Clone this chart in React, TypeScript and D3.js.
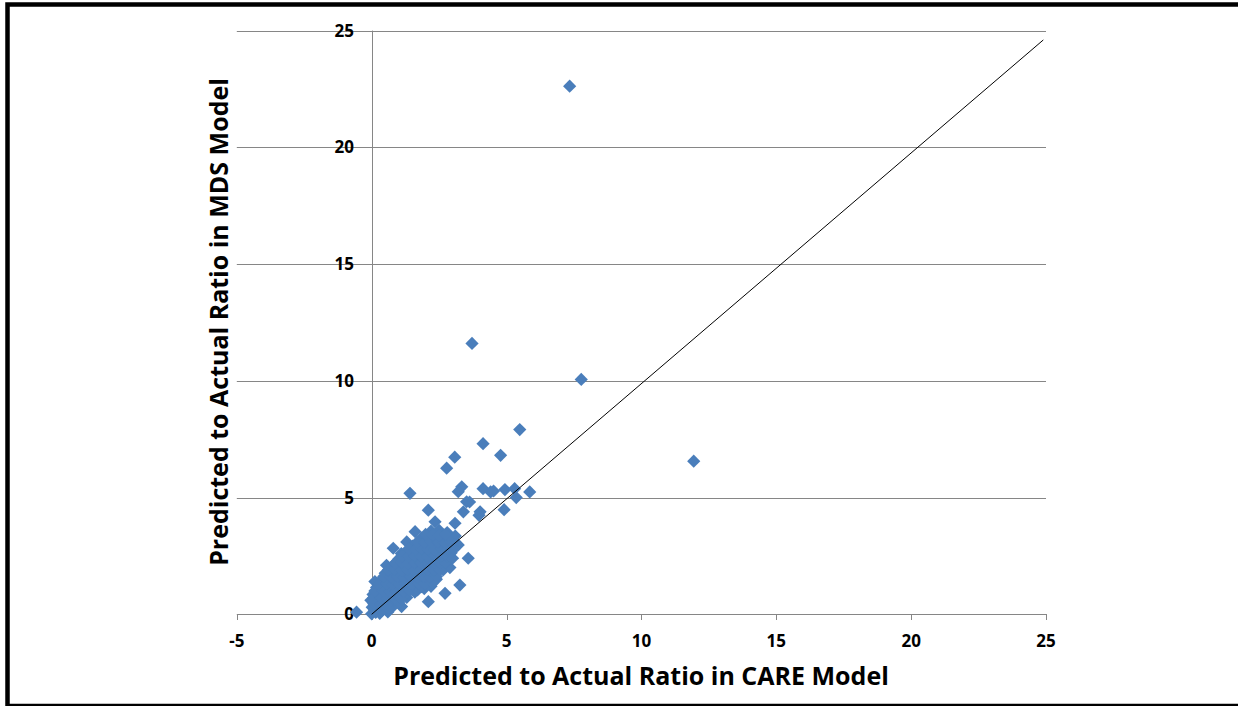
import React from "react";
import * as d3 from "d3";

// CARE (x) vs MDS (y) predicted-to-actual ratios
const clusterPoints: [number, number][] = [
  [-0.56, 0.09], [0.0, 0.02], [0.15, 0.08], [0.3, 0.04], [0.6, 0.1], [1.11, 0.33],
  [0.02, 0.3], [0.25, 0.28], [0.5, 0.32], [0.8, 0.35],
  [-0.03, 0.6], [0.2, 0.55], [0.45, 0.58], [0.7, 0.52], [1.0, 0.5], [1.3, 0.72], [2.1, 0.54],
  [0.05, 0.85], [0.3, 0.88], [0.55, 0.82], [0.8, 0.86], [1.05, 0.84], [1.3, 0.9], [1.6, 0.95], [2.72, 0.9],
  [0.12, 1.4], [0.18, 1.15], [0.42, 1.18], [0.66, 1.12], [0.9, 1.16], [1.14, 1.12], [1.38, 1.18], [1.62, 1.14], [1.85, 1.18], [2.2, 1.2], [3.27, 1.25],
  [0.36, 1.48], [0.6, 1.44], [0.84, 1.5], [1.08, 1.44], [1.32, 1.48], [1.56, 1.44], [1.8, 1.5], [2.05, 1.46], [2.4, 1.5],
  [0.5, 1.76], [0.74, 1.72], [0.98, 1.78], [1.22, 1.74], [1.46, 1.76], [1.7, 1.72], [1.94, 1.78], [2.18, 1.74], [2.4, 1.76], [2.65, 1.9],
  [0.55, 2.1], [0.75, 2.04], [0.99, 2.08], [1.23, 2.04], [1.47, 2.06], [1.71, 2.02], [1.95, 2.08], [2.19, 2.04], [2.43, 2.06], [2.62, 2.1], [2.9, 2.0],
  [1.0, 2.36], [1.24, 2.32], [1.48, 2.38], [1.72, 2.34], [1.96, 2.36], [2.2, 2.32], [2.44, 2.38], [2.68, 2.34], [2.82, 2.4], [3.58, 2.4], [0.8, 2.83],
  [1.1, 2.6], [1.25, 2.66], [1.5, 2.62], [1.74, 2.68], [1.98, 2.64], [2.22, 2.66], [2.46, 2.62], [2.7, 2.68], [2.95, 2.64], [3.21, 2.97],
  [1.3, 3.1], [1.52, 2.92], [1.76, 2.96], [2.0, 2.92], [2.24, 2.98], [2.48, 2.94], [2.72, 2.96], [2.96, 2.92],
  [1.61, 3.54], [1.85, 3.26], [2.1, 3.22], [2.34, 3.28], [2.58, 3.24], [2.82, 3.26], [3.1, 3.35],
  [2.2, 3.56], [2.5, 3.6], [2.8, 3.5], [2.35, 3.96], [3.09, 3.9],
];

const clusterCorePoints: [number, number][] = [
  [0.1, 0.18], [0.38, 0.16], [0.62, 0.24],
  [0.08, 0.45], [0.33, 0.42], [0.58, 0.44], [0.85, 0.62],
  [0.07, 0.7], [0.32, 0.72], [0.57, 0.68], [0.82, 0.7], [1.08, 0.66],
  [0.12, 1.0], [0.42, 1.02], [0.68, 0.98], [0.92, 1.0], [1.18, 0.98], [1.42, 1.02], [1.7, 1.04], [1.95, 1.1],
  [0.28, 1.3], [0.54, 1.32], [0.78, 1.28], [1.02, 1.3], [1.26, 1.32], [1.5, 1.28], [1.74, 1.32], [1.98, 1.3], [2.25, 1.35],
  [0.45, 1.62], [0.72, 1.6], [0.96, 1.62], [1.2, 1.58], [1.44, 1.62], [1.68, 1.6], [1.92, 1.62], [2.16, 1.6], [2.4, 1.62],
  [0.62, 1.9], [0.86, 1.92], [1.1, 1.88], [1.34, 1.92], [1.58, 1.9], [1.82, 1.88], [2.06, 1.92], [2.3, 1.9], [2.52, 1.92],
  [0.87, 2.2], [1.11, 2.22], [1.35, 2.18], [1.59, 2.22], [1.83, 2.2], [2.07, 2.18], [2.31, 2.22], [2.55, 2.2], [2.75, 2.22],
  [1.12, 2.5], [1.36, 2.48], [1.6, 2.52], [1.84, 2.5], [2.08, 2.48], [2.32, 2.52], [2.56, 2.5], [2.8, 2.48], [3.0, 2.4],
  [1.38, 2.8], [1.62, 2.78], [1.86, 2.82], [2.1, 2.8], [2.34, 2.78], [2.58, 2.82], [2.84, 2.8], [3.05, 2.8],
  [1.7, 3.1], [1.96, 3.08], [2.2, 3.12], [2.46, 3.1], [2.7, 3.08], [2.92, 3.12],
  [2.0, 3.42], [2.26, 3.4], [2.5, 3.38], [2.74, 3.42],
];

const outlierPoints: [number, number][] = [
  [2.1, 4.46], [3.4, 4.39], [3.52, 4.82], [3.63, 4.81], [3.34, 5.46], [3.21, 5.25], [4.02, 4.39], [3.98, 4.24],
  [4.13, 5.38], [4.41, 5.24], [4.52, 5.28], [4.94, 5.34], [5.3, 5.38], [5.36, 5.0], [4.91, 4.48], [5.86, 5.24],
  [3.08, 6.73], [2.78, 6.26], [4.13, 7.31], [4.78, 6.81], [5.49, 7.91], [1.42, 5.18],
  [3.72, 11.6], [7.34, 22.62], [7.77, 10.06], [11.94, 6.56],
];

const referenceLineX = [0, 24.9];
const referenceLineY = [0, 24.6];

const xTicks = [-5, 0, 5, 10, 15, 20, 25];
const yTicks = [0, 5, 10, 15, 20, 25];

const xTitle = "Predicted to Actual Ratio in CARE Model";
const yTitle = "Predicted to Actual Ratio in MDS Model";

export default function App() {
  const W = 1238;
  const H = 706;
  const x = d3.scaleLinear().domain([-5, 25]).range([236.8, 1046]);
  const y = d3.scaleLinear().domain([0, 25]).range([614.3, 30.6]);
  const gridColor = "#868686";
  const font = "'Open Sans', 'DejaVu Sans', sans-serif";
  const r = 6.6;
  const diamond = `M0,${-r}L${r},0L0,${r}L${-r},0Z`;
  const allPoints = [...clusterPoints, ...clusterCorePoints, ...outlierPoints];
  const line = d3
    .line<number>()
    .x((_, i) => x(referenceLineX[i]))
    .y((d) => y(d));

  return (
    <svg
      width={W}
      height={H}
      style={{ position: "absolute", left: 0, top: 0, background: "#fff" }}
    >
      <rect x={0} y={0} width={W} height={H} fill="#fff" />
      {yTicks
        .filter((t) => t !== 0)
        .map((t) => (
          <line
            key={"g" + t}
            x1={x(-5)}
            x2={x(25)}
            y1={Math.round(y(t)) + 0.5}
            y2={Math.round(y(t)) + 0.5}
            stroke={gridColor}
            strokeWidth={1}
          />
        ))}
      <line
        x1={x(-5)}
        x2={x(25)}
        y1={Math.round(y(0)) + 0.5}
        y2={Math.round(y(0)) + 0.5}
        stroke={gridColor}
        strokeWidth={1}
      />
      {xTicks.map((t) => (
        <line
          key={"xt" + t}
          x1={Math.round(x(t)) + 0.5}
          x2={Math.round(x(t)) + 0.5}
          y1={Math.round(y(0))}
          y2={Math.round(y(0)) + 6}
          stroke={gridColor}
          strokeWidth={1}
        />
      ))}
      <line
        x1={Math.round(x(0)) + 0.5}
        x2={Math.round(x(0)) + 0.5}
        y1={y(25)}
        y2={y(0)}
        stroke={gridColor}
        strokeWidth={1}
      />
      {xTicks.map((t) => (
        <text
          key={"xl" + t}
          x={x(t)}
          y={647}
          textAnchor="middle"
          fontFamily={font}
          fontWeight={700}
          fontSize={17}
          fill="#000"
        >
          {t}
        </text>
      ))}
      {yTicks.map((t) => (
        <text
          key={"yl" + t}
          x={354}
          y={y(t) + 6}
          textAnchor="end"
          fontFamily={font}
          fontWeight={700}
          fontSize={17}
          fill="#000"
        >
          {t}
        </text>
      ))}
      {allPoints.map((p, i) => (
        <path
          key={"p" + i}
          d={diamond}
          transform={`translate(${x(p[0])},${y(p[1])})`}
          fill="#4a7ebb"
        />
      ))}
      <path d={line(referenceLineY) || ""} fill="none" stroke="#000" strokeWidth={1} />
      <text
        x={641}
        y={685}
        textAnchor="middle"
        fontFamily={font}
        fontWeight={700}
        fontSize={25}
        fill="#000"
      >
        {xTitle}
      </text>
      <text
        transform="translate(228,322) rotate(-90)"
        textAnchor="middle"
        fontFamily={font}
        fontWeight={700}
        fontSize={25}
        fill="#000"
      >
        {yTitle}
      </text>
      <rect
        x={7.5}
        y={4.5}
        width={W + 10}
        height={701.5}
        fill="none"
        stroke="#000"
        strokeWidth={4.5}
      />
    </svg>
  );
}
